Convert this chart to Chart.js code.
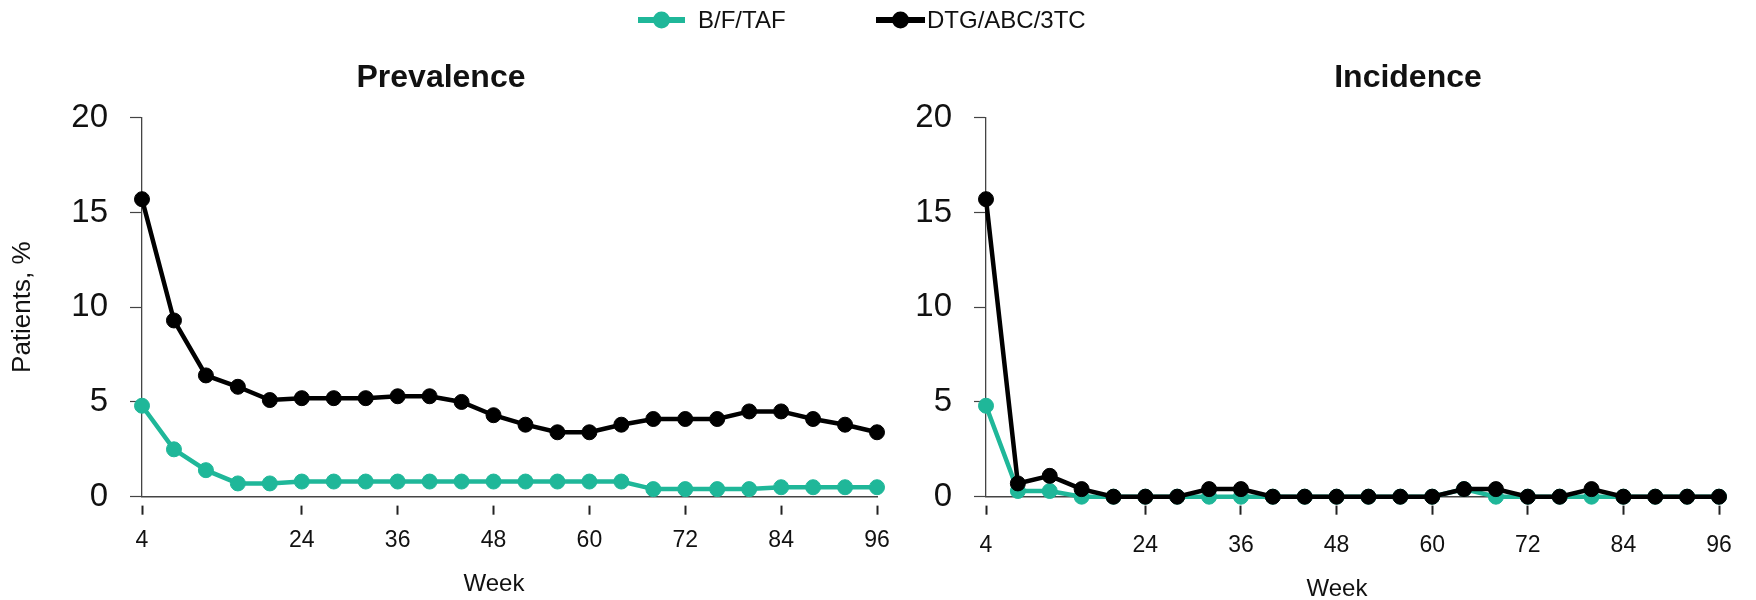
<!DOCTYPE html>
<html>
<head>
<meta charset="utf-8">
<script src="https://cdn.jsdelivr.net/npm/chart.js@4.4.1/dist/chart.umd.min.js"></script>
<style>
  html, body { margin: 0; padding: 0; background: #ffffff; overflow: hidden; }
  #wrap { position: relative; width: 1756px; height: 600px; }
  #wrap canvas { position: absolute; left: 0; top: 0; }
</style>
</head>
<body>
<div id="wrap">
  <canvas id="prev" width="1756" height="600"></canvas>
  <canvas id="inc" width="1756" height="600"></canvas>
</div>
<script>
// ---------- data ----------
const weeks = [4, 8, 12, 16, 20, 24, 28, 32, 36, 40, 44, 48, 52, 56, 60, 64, 68, 72, 76, 80, 84, 88, 92, 96];
const xTickWeeks = [4, 24, 36, 48, 60, 72, 84, 96];
const yTickValues = [0, 5, 10, 15, 20];
const seriesNames = ['B/F/TAF', 'DTG/ABC/3TC'];
const panelTitles = ['Prevalence', 'Incidence'];
const xAxisTitle = 'Week';
const yAxisTitle = 'Patients, %';

const prevBFTAF = [4.8, 2.5, 1.4, 0.7, 0.7, 0.8, 0.8, 0.8, 0.8, 0.8, 0.8, 0.8, 0.8, 0.8, 0.8, 0.8, 0.4, 0.4, 0.4, 0.4, 0.5, 0.5, 0.5, 0.5];
const prevDTG   = [15.7, 9.3, 6.4, 5.8, 5.1, 5.2, 5.2, 5.2, 5.3, 5.3, 5.0, 4.3, 3.8, 3.4, 3.4, 3.8, 4.1, 4.1, 4.1, 4.5, 4.5, 4.1, 3.8, 3.4];
const incBFTAF  = [4.8, 0.3, 0.3, 0, 0, 0, 0, 0, 0, 0, 0, 0, 0, 0, 0, 0.4, 0, 0, 0, 0, 0, 0, 0, 0];
const incDTG    = [15.7, 0.7, 1.1, 0.4, 0, 0, 0, 0.4, 0.4, 0, 0, 0, 0, 0, 0, 0.4, 0.4, 0, 0, 0.4, 0, 0, 0, 0];

// ---------- styling ----------
const GREEN = '#1fb799';
const BLACK = '#000000';
const FONT = '"Liberation Sans", Arial, Helvetica, sans-serif';
Chart.defaults.font.family = FONT;
Chart.defaults.color = '#111111';

function toPoints(values) {
  return weeks.map((w, i) => ({ x: w, y: values[i] }));
}

function makeDatasets(bftaf, dtg) {
  const common = { borderWidth: 4.5, pointRadius: 7.5, pointHoverRadius: 7.5, pointBorderWidth: 1, tension: 0, clip: false };
  return [
    Object.assign({ label: seriesNames[0], data: toPoints(bftaf), borderColor: GREEN, backgroundColor: GREEN, pointBackgroundColor: GREEN, pointBorderColor: GREEN, order: 1 }, common),
    Object.assign({ label: seriesNames[1], data: toPoints(dtg), borderColor: BLACK, backgroundColor: BLACK, pointBackgroundColor: BLACK, pointBorderColor: BLACK, order: 0 }, common)
  ];
}

// free text drawn onto the canvas (titles / axis labels)
function textPlugin(items) {
  return {
    id: 'panelText',
    afterDraw(chart) {
      const ctx = chart.ctx;
      items.forEach(it => {
        ctx.save();
        ctx.font = it.font;
        ctx.fillStyle = it.color || '#111111';
        ctx.textAlign = it.align || 'center';
        ctx.textBaseline = it.baseline || 'alphabetic';
        ctx.fillText(it.text, it.x, it.y);
        ctx.restore();
      });
    }
  };
}

// legend: line with a dot, then the dataset label
function lineLegendPlugin(spec) {
  return {
    id: 'lineLegend',
    afterDraw(chart) {
      const ctx = chart.ctx;
      chart.data.datasets.forEach((ds, i) => {
        const s = spec[i];
        ctx.save();
        ctx.strokeStyle = ds.borderColor;
        ctx.lineWidth = 6;
        ctx.beginPath();
        ctx.moveTo(s.x0, s.y);
        ctx.lineTo(s.x1, s.y);
        ctx.stroke();
        ctx.fillStyle = ds.borderColor;
        ctx.beginPath();
        ctx.arc((s.x0 + s.x1) / 2, s.y, 8.5, 0, Math.PI * 2);
        ctx.fill();
        ctx.fillStyle = '#111111';
        ctx.font = '24px ' + FONT;
        ctx.textAlign = 'left';
        ctx.textBaseline = 'middle';
        ctx.fillText(ds.label, s.tx, s.y + 1);
        ctx.restore();
      });
    }
  };
}

function makeScales(opts) {
  return {
    x: {
      type: 'linear',
      min: 4,
      max: 96,
      afterBuildTicks: (s) => { s.ticks = xTickWeeks.map(v => ({ value: v })); },
      ticks: { font: { size: 23 }, color: '#111111', padding: opts.xPad, maxRotation: 0, autoSkip: false },
      grid: {
        display: true, drawOnChartArea: false, drawTicks: true,
        tickLength: 18, tickWidth: 2, tickColor: '#222222',
        tickBorderDash: [10, 8], tickBorderDashOffset: 10
      },
      border: { display: true, color: '#444444', width: 1.6 },
      afterFit: (s) => { s.height = 103.3; }
    },
    y: {
      type: 'linear',
      min: 0,
      max: 20,
      afterBuildTicks: (s) => { s.ticks = yTickValues.map(v => ({ value: v })); },
      ticks: { font: { size: 33 }, color: '#111111', padding: 22 },
      grid: { display: true, drawOnChartArea: false, tickLength: 12, tickColor: '#444444', tickWidth: 1.2 },
      border: { display: true, color: '#444444', width: 1.3 },
      title: {
        display: opts.yTitle,
        text: yAxisTitle,
        font: { size: 26 },
        color: '#111111',
        padding: { top: 7, bottom: 0 }
      },
      afterFit: (s) => { s.width = opts.yWidth; }
    }
  };
}

function baseOptions(padding, scaleOpts) {
  return {
    responsive: false,
    animation: false,
    events: [],
    layout: { padding: padding },
    plugins: { legend: { display: false }, title: { display: false }, tooltip: { enabled: false } },
    scales: makeScales(scaleOpts)
  };
}

new Chart(document.getElementById('prev'), {
  type: 'line',
  data: { datasets: makeDatasets(prevBFTAF, prevDTG) },
  options: baseOptions({ left: 0, top: 117.7, right: 879, bottom: 0 }, { xPad: 12, yTitle: true, yWidth: 142 }),
  plugins: [textPlugin([
    { text: panelTitles[0], x: 441, y: 87, font: 'bold 32px ' + FONT },
    { text: xAxisTitle, x: 494, y: 590.5, font: '24px ' + FONT }
  ])]
});

new Chart(document.getElementById('inc'), {
  type: 'line',
  data: { datasets: makeDatasets(incBFTAF, incDTG) },
  options: baseOptions({ left: 0, top: 117.7, right: 37, bottom: 0 }, { xPad: 17, yTitle: false, yWidth: 986 }),
  plugins: [
    textPlugin([
      { text: panelTitles[1], x: 1408, y: 87, font: 'bold 32px ' + FONT },
      { text: xAxisTitle, x: 1337, y: 595.5, font: '24px ' + FONT }
    ]),
    lineLegendPlugin([
      { x0: 638, x1: 685, y: 20, tx: 698 },
      { x0: 876, x1: 925, y: 20, tx: 927 }
    ])
  ]
});
</script>
</body>
</html>
